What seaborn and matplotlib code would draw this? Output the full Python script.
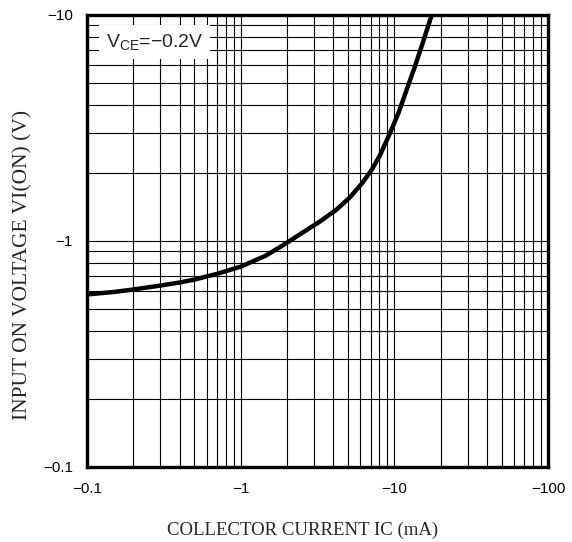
import numpy as np
import pandas as pd
import matplotlib
matplotlib.use("Agg")
import matplotlib.pyplot as plt
import seaborn as sns
from matplotlib.ticker import FixedLocator, FixedFormatter, LogLocator, NullFormatter

# Data (magnitudes; displayed with negative sign labels)
collector_current_ma = [0.1, 0.15, 0.2, 0.3, 0.4, 0.5, 0.7, 1.0, 1.45, 1.85, 2.43, 3.28, 4.22,
                        5.14, 6.12, 7.11, 8.05, 9.35, 10.6, 12.0, 13.6, 15.4, 17.5]
input_on_voltage_v = [0.58, 0.595, 0.61, 0.635, 0.655, 0.675, 0.715, 0.77, 0.86, 0.95, 1.07, 1.22, 1.38,
                      1.56, 1.79, 2.06, 2.39, 2.99, 3.66, 4.65, 5.91, 7.62, 10.0]
x_ticks = [0.1, 1, 10, 100]
x_tick_labels = ["\u22120.1", "\u22121", "\u221210", "\u2212100"]
y_ticks = [0.1, 1, 10]
y_tick_labels = ["\u22120.1", "\u22121", "\u221210"]

df = pd.DataFrame({"ic": collector_current_ma, "vi": input_on_voltage_v})

sns.set_style("white")
plt.rcParams["font.family"] = ["Liberation Sans", "DejaVu Sans"]
plt.rcParams["mathtext.fontset"] = "custom"
plt.rcParams["mathtext.rm"] = "Liberation Sans"
plt.rcParams["mathtext.it"] = "Liberation Sans"

fig = plt.figure(figsize=(5.72, 5.42), dpi=100)
ax = fig.add_axes([87/572, 1-467/542, (548-87)/572, (467-15)/542])
ax.set_xscale("log")
ax.set_yscale("log")
ax.set_xlim(0.1, 100)
ax.set_ylim(0.1, 10)

sns.lineplot(data=df, x="ic", y="vi", ax=ax, color="black", linewidth=3.2, zorder=5)

ax.xaxis.set_major_locator(FixedLocator(x_ticks))
ax.xaxis.set_major_formatter(FixedFormatter(x_tick_labels))
ax.yaxis.set_major_locator(FixedLocator(y_ticks))
ax.yaxis.set_major_formatter(FixedFormatter(y_tick_labels))
ax.xaxis.set_minor_locator(LogLocator(base=10, subs=np.arange(2, 10)))
ax.yaxis.set_minor_locator(LogLocator(base=10, subs=np.arange(2, 10)))
ax.xaxis.set_minor_formatter(NullFormatter())
ax.yaxis.set_minor_formatter(NullFormatter())

ax.grid(True, which="both", color="black", linewidth=0.8)
ax.tick_params(axis="both", which="both", length=0, labelsize=11, colors="black")
ax.tick_params(axis="x", pad=11)
ax.tick_params(axis="y", pad=10)

for s in ax.spines.values():
    s.set_visible(True)
    s.set_color("black")
    s.set_linewidth(2.4)
    s.set_zorder(6)

ax.set_xlabel("COLLECTOR CURRENT IC (mA)", family=["Liberation Serif"], fontsize=13.5, va="center")
ax.set_ylabel("INPUT ON VOLTAGE VI(ON) (V)", family=["Liberation Serif"], fontsize=15.5, va="center")
ax.xaxis.set_label_coords((302.5-87)/461, (467-530)/452)
ax.yaxis.set_label_coords((22.5-87)/461, (467-265)/452)

ax.text((106-87)/461, 0.962, "V$_{\\mathrm{CE}}$=\u22120.2V", transform=ax.transAxes,
        fontsize=14, ha="left", va="top", zorder=7,
        bbox=dict(facecolor="white", edgecolor="none", pad=5))

fig.savefig("out.png", dpi=100)
